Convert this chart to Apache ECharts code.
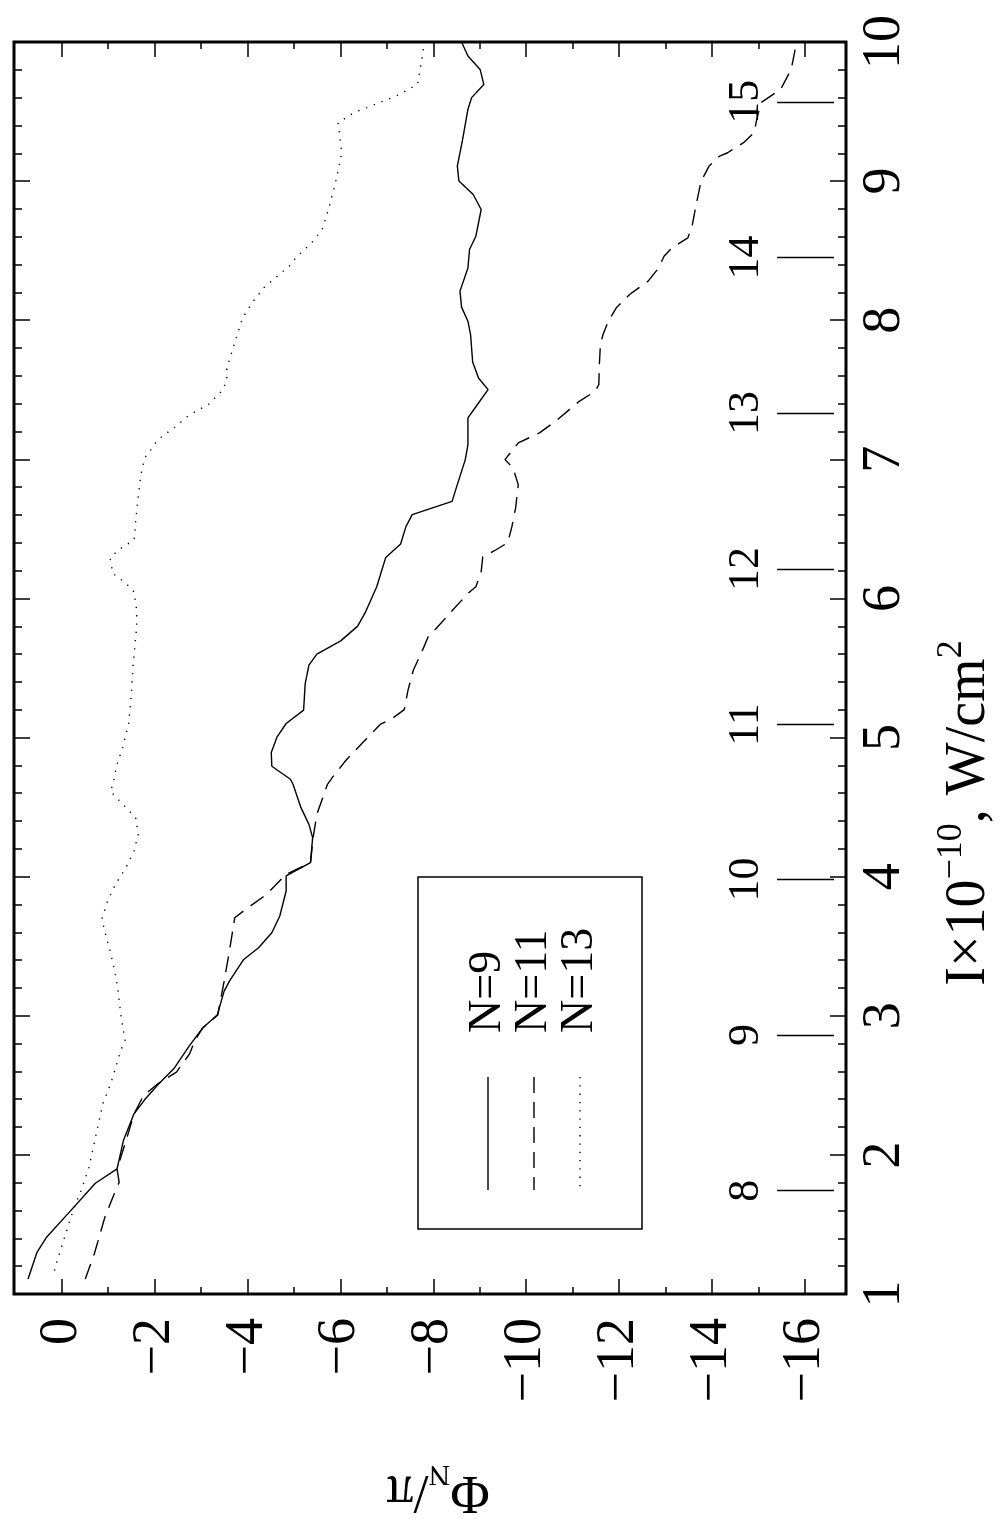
<!DOCTYPE html>
<html>
<head>
<meta charset="utf-8">
<script src="https://cdn.jsdelivr.net/npm/echarts@6/dist/echarts.min.js"></script>
<style>
html,body{margin:0;padding:0;background:#fff;}
#chart{width:1005px;height:1532px;}
</style>
</head>
<body>
<div id="chart"></div>
<script>
// ---- data ----
const seriesNames = ['N=9', 'N=11', 'N=13'];
const phiTicks = [0, -2, -4, -6, -8, -10, -12, -14, -16];
const phiMinorTicks = [-1, -3, -5, -7, -9, -11, -13, -15];
const nPositions = [1.743, 2.861, 3.979, 5.094, 6.212, 7.333, 8.451, 9.570];
const nLabels = ['8', '9', '10', '11', '12', '13', '14', '15'];

const intensity9 = [1.108, 1.300, 1.408, 1.576, 1.796, 1.899, 2.103, 2.295, 2.396, 2.504, 2.619, 2.787, 2.914, 3.005, 3.177, 3.249, 3.405, 3.489, 3.597, 3.717, 3.897, 4.005, 4.101, 4.281, 4.376, 4.496, 4.664, 4.700, 4.794, 4.892, 5.005, 5.101, 5.197, 5.388, 5.520, 5.600, 5.695, 5.801, 5.904, 6.084, 6.295, 6.391, 6.516, 6.602, 6.698, 6.818, 6.998, 7.106, 7.298, 7.405, 7.501, 7.585, 7.700, 7.897, 7.993, 8.094, 8.209, 8.376, 8.508, 8.604, 8.796, 8.904, 9.000, 9.108, 9.300, 9.516, 9.600, 9.695, 9.803, 9.899, 10.0];
const phase9 = [0.718, 0.525, 0.319, -0.137, -0.730, -1.197, -1.334, -1.562, -1.790, -2.075, -2.417, -2.759, -3.044, -3.352, -3.501, -3.615, -3.922, -4.242, -4.527, -4.698, -4.835, -4.835, -5.359, -5.405, -5.325, -5.154, -4.983, -4.926, -4.527, -4.515, -4.641, -4.835, -5.211, -5.245, -5.325, -5.496, -6.009, -6.374, -6.545, -6.784, -6.978, -7.298, -7.412, -7.548, -8.404, -8.518, -8.689, -8.746, -8.746, -8.974, -9.179, -8.974, -8.848, -8.803, -8.746, -8.609, -8.575, -8.746, -8.780, -8.917, -9.031, -8.860, -8.552, -8.518, -8.632, -8.746, -8.826, -9.088, -9.008, -8.746, -8.609];

const intensity11 = [1.108, 1.288, 1.552, 1.743, 1.803, 1.899, 2.103, 2.295, 2.427, 2.511, 2.595, 2.727, 2.823, 2.914, 3.005, 3.249, 3.465, 3.705, 3.777, 3.873, 4.017, 4.101, 4.281, 4.448, 4.664, 4.717, 4.837, 4.957, 5.096, 5.137, 5.201, 5.341, 5.484, 5.616, 5.724, 5.784, 5.911, 6.036, 6.084, 6.192, 6.300, 6.343, 6.400, 6.516, 6.650, 6.818, 6.938, 6.998, 7.118, 7.190, 7.273, 7.417, 7.489, 7.537, 7.681, 7.825, 7.897, 7.993, 8.089, 8.185, 8.281, 8.376, 8.460, 8.520, 8.592, 8.676, 8.820, 9.000, 9.108, 9.180, 9.204, 9.276, 9.348, 9.444, 9.564, 9.659, 9.803, 9.995];
const phase11 = [-0.513, -0.707, -0.935, -1.163, -1.243, -1.197, -1.391, -1.562, -1.767, -2.075, -2.474, -2.759, -2.873, -3.044, -3.364, -3.501, -3.615, -3.729, -4.014, -4.413, -4.835, -5.359, -5.416, -5.496, -5.724, -5.838, -6.123, -6.465, -6.864, -7.115, -7.377, -7.457, -7.571, -7.754, -7.891, -8.062, -8.404, -8.746, -8.917, -9.031, -9.065, -9.316, -9.601, -9.692, -9.772, -9.829, -9.715, -9.544, -9.829, -10.285, -10.627, -11.140, -11.482, -11.562, -11.574, -11.596, -11.653, -11.767, -11.938, -12.223, -12.623, -12.851, -12.965, -13.136, -13.478, -13.569, -13.649, -13.763, -13.934, -14.162, -14.333, -14.675, -14.903, -14.960, -15.051, -15.473, -15.701, -15.815];

const intensity13 = [1.168, 1.240, 1.360, 1.480, 1.600, 1.743, 1.911, 2.175, 2.379, 2.451, 2.559, 2.751, 2.823, 3.010, 3.177, 3.297, 3.465, 3.633, 3.705, 3.825, 3.945, 4.065, 4.185, 4.305, 4.424, 4.496, 4.616, 4.657, 4.796, 4.921, 5.101, 5.317, 5.508, 5.796, 5.916, 6.048, 6.108, 6.180, 6.288, 6.348, 6.420, 6.492, 6.554, 6.698, 6.890, 7.010, 7.070, 7.142, 7.225, 7.321, 7.393, 7.489, 7.561, 7.657, 7.777, 7.897, 8.017, 8.137, 8.233, 8.348, 8.384, 8.448, 8.556, 8.652, 8.772, 8.868, 8.988, 9.108, 9.204, 9.324, 9.420, 9.492, 9.552, 9.612, 9.695, 9.803, 9.923, 10.0];
const phase13 = [0.148, 0.091, -0.023, -0.137, -0.251, -0.422, -0.593, -0.764, -0.901, -0.992, -1.106, -1.277, -1.368, -1.277, -1.220, -1.163, -1.049, -0.912, -0.878, -0.992, -1.163, -1.391, -1.562, -1.653, -1.596, -1.391, -1.049, -1.106, -1.186, -1.311, -1.448, -1.505, -1.539, -1.619, -1.619, -1.562, -1.391, -1.106, -1.049, -1.220, -1.562, -1.585, -1.596, -1.642, -1.710, -1.790, -1.927, -2.075, -2.417, -2.759, -3.158, -3.444, -3.558, -3.558, -3.672, -3.786, -3.900, -4.128, -4.356, -4.755, -4.892, -5.040, -5.382, -5.610, -5.724, -5.804, -5.895, -5.975, -6.032, -5.987, -5.952, -6.294, -6.750, -7.206, -7.662, -7.719, -7.776, -7.799];

// ---- styles ----
const FONT = "'Liberation Serif', 'DejaVu Serif', serif";
const BLACK = '#000';
const lineTypes = ['solid', [16, 9], [1.3, 7]];

function zip(xs, ys) { return xs.map((x, i) => [x, ys[i]]); }
function fmtPhi(v) { return v === 0 ? '0' : (v < 0 ? '\u2212' + Math.abs(v) : String(v)); }

const chart = echarts.init(document.getElementById('chart'), null, { renderer: 'canvas' });

const tickStyle = { color: BLACK, width: 1.5 };
const xBase = {
  type: 'value', min: -16.88, max: 1.02, inverse: true,
  splitLine: { show: false },
  axisLine: { show: false, onZero: false },
  axisLabel: { show: false }
};
const yBase = {
  type: 'value', min: 1, max: 10, interval: 1,
  splitLine: { show: false },
  axisLine: { show: false, onZero: false }
};
const labelStyle = { color: BLACK, fontFamily: FONT, fontSize: 54 };

const legendX = [488, 534, 580];
const legendElements = [
  { type: 'rect', silent: true, shape: { x: 418, y: 877, width: 224, height: 352 },
    style: { fill: 'none', stroke: BLACK, lineWidth: 1.5 } }
];
seriesNames.forEach((name, i) => {
  legendElements.push({
    type: 'line', silent: true,
    shape: { x1: legendX[i], y1: 1077, x2: legendX[i], y2: 1190 },
    style: { stroke: BLACK, lineWidth: 1.4, lineDash: Array.isArray(lineTypes[i]) ? lineTypes[i] : null }
  });
  legendElements.push({
    type: 'text', silent: true, x: legendX[i], y: 1033, rotation: Math.PI / 2,
    style: { text: name, fontSize: 46, fontFamily: FONT, fill: BLACK, align: 'left', verticalAlign: 'middle' }
  });
});

const option = {
  animation: false,
  backgroundColor: '#fff',
  grid: { left: 14, right: 157, top: 42, bottom: 238, show: true, borderColor: BLACK, borderWidth: 3, backgroundColor: 'transparent' },
  xAxis: [
    Object.assign({}, xBase, {
      position: 'bottom',
      axisTick: { show: true, inside: true, length: 15, customValues: phiTicks, lineStyle: tickStyle },
      axisLabel: Object.assign({ show: true, customValues: phiTicks, rotate: 90, margin: 24, formatter: fmtPhi }, labelStyle),
      name: '{a|\u03A6}{sub|N}{a|/\u03C0}',
      nameLocation: 'middle', nameRotate: 180, nameGap: 165,
      nameTextStyle: {
        color: BLACK, fontFamily: FONT, fontSize: 54, padding: [0, 16, 0, 0],
        rich: {
          a: { fontFamily: FONT, fontSize: 54, color: BLACK, lineHeight: 64 },
          sub: { fontFamily: FONT, fontSize: 30, color: BLACK, verticalAlign: 'bottom', lineHeight: 30 }
        }
      }
    }),
    Object.assign({}, xBase, {
      position: 'bottom',
      axisTick: { show: true, inside: true, length: 7, customValues: phiMinorTicks, lineStyle: tickStyle }
    }),
    Object.assign({}, xBase, {
      position: 'top',
      axisTick: { show: true, inside: true, length: 15, customValues: phiTicks, lineStyle: tickStyle }
    }),
    Object.assign({}, xBase, {
      position: 'top',
      axisTick: { show: true, inside: true, length: 7, customValues: phiMinorTicks, lineStyle: tickStyle }
    })
  ],
  yAxis: [
    Object.assign({}, yBase, {
      position: 'left',
      axisTick: { show: true, inside: true, length: 16, lineStyle: tickStyle },
      minorTick: { show: true, splitNumber: 5, length: 8, lineStyle: tickStyle },
      axisLabel: { show: false }
    }),
    Object.assign({}, yBase, {
      position: 'right',
      axisTick: { show: true, inside: true, length: 16, lineStyle: tickStyle },
      minorTick: { show: true, splitNumber: 5, length: 8, lineStyle: tickStyle },
      axisLabel: Object.assign({ show: true, rotate: 90, margin: 12 }, labelStyle),
      name: '{i|I\u00D710}{sup|\u221210}{i|, W/cm}{sup|2}',
      nameLocation: 'middle', nameRotate: 90, nameGap: 88,
      nameTextStyle: {
        color: BLACK, fontFamily: FONT, fontSize: 56, padding: [0, 290, 0, 0],
        rich: {
          i: { fontFamily: FONT, fontSize: 56, color: BLACK, lineHeight: 70 },
          sup: { fontFamily: FONT, fontSize: 36, color: BLACK, verticalAlign: 'top', lineHeight: 40 }
        }
      }
    }),
    {
      type: 'value', min: 1, max: 10, position: 'right', offset: -12,
      splitLine: { show: false },
      axisLine: { show: false, onZero: false },
      axisTick: { show: true, inside: true, length: 57, customValues: nPositions, lineStyle: { color: BLACK, width: 1.4 } },
      axisLabel: {
        show: true, inside: true, customValues: nPositions, rotate: 90, margin: 66,
        color: BLACK, fontFamily: FONT, fontSize: 44,
        formatter: function (v) {
          const k = nPositions.findIndex(p => Math.abs(p - v) < 1e-6);
          return k >= 0 ? nLabels[k] : '';
        }
      }
    }
  ],
  series: [
    { name: seriesNames[0], type: 'line', xAxisIndex: 0, yAxisIndex: 0, data: zip(phase9, intensity9),
      symbol: 'none', silent: true, lineStyle: { color: BLACK, width: 1.4, type: lineTypes[0] } },
    { name: seriesNames[1], type: 'line', xAxisIndex: 0, yAxisIndex: 0, data: zip(phase11, intensity11),
      symbol: 'none', silent: true, lineStyle: { color: BLACK, width: 1.4, type: lineTypes[1] } },
    { name: seriesNames[2], type: 'line', xAxisIndex: 0, yAxisIndex: 0, data: zip(phase13, intensity13),
      symbol: 'none', silent: true, lineStyle: { color: BLACK, width: 1.4, type: lineTypes[2] } }
  ],
  graphic: { elements: legendElements }
};
chart.setOption(option);
</script>
</body>
</html>
